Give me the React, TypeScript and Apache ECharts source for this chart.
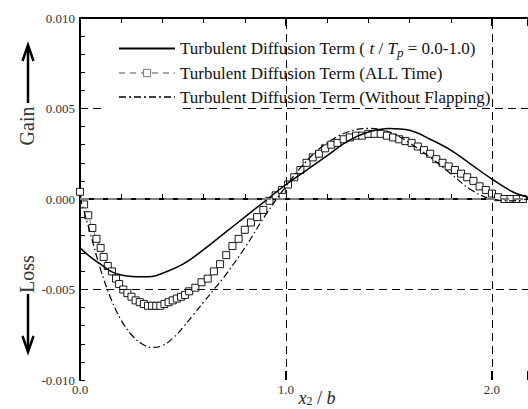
import React, { useEffect, useRef } from "react";
import * as echarts from "echarts";

const FONT = "Liberation Serif";

const S1 = "Turbulent Diffusion Term ( t / Tp = 0.0-1.0)";
const S2 = "Turbulent Diffusion Term (ALL Time)";
const S3 = "Turbulent Diffusion Term (Without Flapping)";

const X_SOLID = [0.0, 0.05, 0.1, 0.15, 0.2, 0.25, 0.3, 0.35, 0.4, 0.5, 0.6, 0.7, 0.8, 0.9, 1.0, 1.1, 1.2, 1.3, 1.4, 1.5, 1.6, 1.7, 1.8, 1.9, 2.0, 2.1, 2.175];
const Y_SOLID = [-0.0027, -0.0032, -0.0036, -0.004, -0.0042, -0.00428, -0.0043, -0.00428, -0.0041, -0.0036, -0.0028, -0.0019, -0.001, -0.0001, 0.0008, 0.0016, 0.0024, 0.0032, 0.0037, 0.0039, 0.0038, 0.0033, 0.0027, 0.0019, 0.0011, 0.0004, 0.0001];

const X_ALL = [0.0, 0.02, 0.04, 0.06, 0.08, 0.1, 0.115, 0.135, 0.155, 0.175, 0.19, 0.21, 0.23, 0.25, 0.27, 0.29, 0.31, 0.33, 0.35, 0.37, 0.39, 0.41, 0.43, 0.45, 0.47, 0.49, 0.51, 0.53, 0.56, 0.59, 0.62, 0.65, 0.68, 0.71, 0.74, 0.77, 0.8, 0.83, 0.86, 0.89, 0.92, 0.95, 0.98, 1.01, 1.04, 1.07, 1.1, 1.13, 1.16, 1.19, 1.22, 1.25, 1.28, 1.31, 1.34, 1.37, 1.4, 1.43, 1.46, 1.49, 1.52, 1.55, 1.58, 1.61, 1.64, 1.67, 1.7, 1.73, 1.76, 1.79, 1.82, 1.85, 1.88, 1.91, 1.94, 1.97, 2.0, 2.03, 2.06, 2.09, 2.12, 2.15];
const Y_ALL = [0.0004, -0.0003, -0.0009, -0.0016, -0.0022, -0.0027, -0.0032, -0.0037, -0.004, -0.0044, -0.0047, -0.005, -0.0052, -0.0054, -0.0056, -0.0057, -0.0058, -0.0059, -0.0059, -0.0059, -0.0059, -0.0058, -0.0057, -0.0056, -0.0055, -0.0054, -0.0053, -0.0051, -0.0049, -0.0046, -0.0044, -0.004, -0.0036, -0.0031, -0.0026, -0.0022, -0.0017, -0.0013, -0.001, -0.0006, -0.0001, 0.0002, 0.0005, 0.0008, 0.0012, 0.0016, 0.002, 0.0023, 0.0025, 0.0028, 0.003, 0.0031, 0.0033, 0.0034, 0.0035, 0.0035, 0.0036, 0.0036, 0.0036, 0.0035, 0.0034, 0.0033, 0.0032, 0.0031, 0.0029, 0.0027, 0.0025, 0.0022, 0.002, 0.0018, 0.0016, 0.0014, 0.0012, 0.001, 0.0007, 0.0005, 0.0003, 0.0001, 0.0, 0.0, 0.0, 0.0];

const X_NOFLAP = [0.0, 0.05, 0.1, 0.15, 0.2, 0.25, 0.3, 0.35, 0.4, 0.45, 0.5, 0.55, 0.6, 0.65, 0.7, 0.8, 0.9, 1.0, 1.1, 1.2, 1.3, 1.4, 1.5, 1.6, 1.7, 1.8, 1.9, 2.0, 2.1, 2.175];
const Y_NOFLAP = [0.0001, -0.0019, -0.0039, -0.0055, -0.0067, -0.0075, -0.008, -0.0082, -0.0081, -0.0077, -0.0071, -0.0064, -0.0057, -0.005, -0.0043, -0.0027, -0.0009, 0.0007, 0.0021, 0.0031, 0.0037, 0.0039, 0.0037, 0.0031, 0.0023, 0.0014, 0.0005, 0.0, -0.0001, 0.0];

const X_MAX = 2.175;
const Y_MIN = -0.01;
const Y_MAX = 0.01;

const pairs = (xs: number[], ys: number[]) => xs.map((x, i) => [x, ys[i]]);

export default function App() {
  const ref = useRef<HTMLDivElement>(null);
  useEffect(() => {
    if (!ref.current) return;
    const chart = echarts.init(ref.current, undefined, { renderer: "svg" });
    const isInt = (v: number) => Math.abs(v - Math.round(v)) < 1e-6;
    const blackDash = { color: "#000", width: 1, type: [8, 5] as any };
    const hiddenSymbol = { color: "transparent", borderColor: "transparent", borderWidth: 0 };
    const option: any = {
      animation: false,
      backgroundColor: "#fff",
      textStyle: { fontFamily: FONT },
      grid: { left: 80, top: 18, right: 0, bottom: 29 },
      xAxis: [
        {
          type: "value", min: 0, max: X_MAX, interval: 0.2, position: "bottom",
          axisLine: { show: true, lineStyle: { color: "#000", width: 2 } },
          axisTick: { show: true, inside: true, length: 5, lineStyle: { color: "#000", width: 1 } },
          axisLabel: {
            show: true, margin: 3, fontFamily: FONT, fontSize: 13, color: "#333",
            formatter: (v: number) => (isInt(v) ? v.toFixed(1) : ""),
            showMaxLabel: false,
          },
          splitLine: { show: false },
        },
        {
          type: "value", min: 0, max: X_MAX, interval: 1, position: "bottom",
          axisLine: { show: false },
          axisTick: { show: true, inside: true, length: 9, lineStyle: { color: "#000", width: 2 } },
          axisLabel: { show: false },
          splitLine: { show: false },
        },
        {
          type: "value", min: 0, max: X_MAX, interval: 0.2, position: "top",
          axisLine: { show: true, lineStyle: { color: "#000", width: 2 } },
          axisTick: { show: true, inside: true, length: 5, lineStyle: { color: "#000", width: 1 } },
          axisLabel: { show: false },
          splitLine: { show: false },
        },
        {
          type: "value", min: 0, max: X_MAX, interval: 1, position: "top",
          axisLine: { show: false },
          axisTick: { show: true, inside: true, length: 8, lineStyle: { color: "#000", width: 2 } },
          axisLabel: { show: false },
          splitLine: { show: false },
        },
      ],
      yAxis: {
        type: "value", min: Y_MIN, max: Y_MAX, interval: 0.005,
        axisLine: { show: true, onZero: false, lineStyle: { color: "#000", width: 2 } },
        axisTick: { show: true, inside: true, length: 5, lineStyle: { color: "#000", width: 1 } },
        minorTick: { show: true, splitNumber: 5, length: 5, lineStyle: { color: "#000", width: 1 } },
        axisLabel: {
          margin: 5, fontFamily: FONT, fontSize: 13, color: "#333",
          formatter: (v: number) => v.toFixed(3),
        },
        splitLine: { show: false },
      },
      legend: {
        orient: "vertical", left: 113, top: 33, itemWidth: 56, itemHeight: 9, itemGap: 4,
        textStyle: {
          fontFamily: FONT, fontSize: 17, color: "#111", lineHeight: 20,
          rich: {
            n: { fontFamily: FONT, fontSize: 17, lineHeight: 20, color: "#111" },
            i: { fontFamily: FONT, fontSize: 17, lineHeight: 20, fontStyle: "italic", color: "#111" },
            sub: { fontFamily: FONT, fontSize: 13, lineHeight: 12, fontStyle: "italic", color: "#111", padding: [8, 0, 0, 0] },
          },
        },
        formatter: (name: string) =>
          name === S1 ? "{n|Turbulent Diffusion Term ( }{i|t}{n| / }{i|T}{sub|p}{n| = 0.0-1.0)}" : name,
        data: [
          { name: S1, itemStyle: hiddenSymbol, lineStyle: { color: "#000", width: 2, type: "solid" } },
          { name: S2, itemStyle: { borderColor: "#777", color: "#fff", borderWidth: 1 }, lineStyle: { color: "#888", width: 1.5, type: [6, 5] } },
          { name: S3, itemStyle: hiddenSymbol, lineStyle: { color: "#000", width: 1.6, type: [7, 3, 2, 3] } },
        ],
      },
      series: [
        {
          name: "grid", type: "line", data: [], z: 1, silent: true,
          markLine: {
            silent: true, symbol: "none", label: { show: false }, animation: false,
            data: [
              [{ coord: [1, Y_MIN], lineStyle: blackDash }, { coord: [1, Y_MAX] }],
              [{ coord: [2, Y_MIN], lineStyle: blackDash }, { coord: [2, Y_MAX] }],
              [{ coord: [0, 0.005], lineStyle: blackDash }, { coord: [0.12, 0.005] }],
              [{ coord: [0.5, 0.005], lineStyle: blackDash }, { coord: [X_MAX, 0.005] }],
              [{ coord: [0, -0.005], lineStyle: blackDash }, { coord: [X_MAX, -0.005] }],
              [{ coord: [0, 0], lineStyle: { color: "#808080", width: 2, type: [9, 5] } }, { coord: [X_MAX, 0] }],
            ],
          },
        },
        {
          name: S2, type: "line", z: 3, data: pairs(X_ALL, Y_ALL),
          symbol: "rect", symbolSize: 7, showSymbol: true,
          itemStyle: { color: "#fff", borderColor: "#000", borderWidth: 0.9 },
          lineStyle: { color: "#777", width: 1, type: [6, 4] },
        },
        {
          name: S1, type: "line", z: 4, data: pairs(X_SOLID, Y_SOLID), smooth: 0.4,
          showSymbol: false, symbol: "circle",
          itemStyle: { color: "#000" },
          lineStyle: { color: "#000", width: 1.5, type: "solid" },
        },
        {
          name: S3, type: "line", z: 4, data: pairs(X_NOFLAP, Y_NOFLAP), smooth: 0.4,
          showSymbol: false, symbol: "circle",
          itemStyle: { color: "#000" },
          lineStyle: { color: "#000", width: 1.2, type: [7, 3, 1.5, 3] },
        },
      ],
      graphic: [
        {
          type: "text", x: 27, y: 126, rotation: Math.PI / 2, z: 10,
          style: { text: "Gain", fontFamily: FONT, fontSize: 20, fill: "#333", align: "center", verticalAlign: "middle", textAlign: "center", textVerticalAlign: "middle" },
        },
        {
          type: "text", x: 27, y: 274, rotation: Math.PI / 2, z: 10,
          style: { text: "Loss", fontFamily: FONT, fontSize: 20, fill: "#333", align: "center", verticalAlign: "middle", textAlign: "center", textVerticalAlign: "middle" },
        },
        { type: "line", z: 10, shape: { x1: 28, y1: 103, x2: 28, y2: 47 }, style: { stroke: "#000", lineWidth: 2.5 } },
        { type: "polyline", z: 10, shape: { points: [[22.5, 61], [28, 45], [33.5, 61]] }, style: { stroke: "#000", lineWidth: 2.5, fill: "none" } },
        { type: "line", z: 10, shape: { x1: 28, y1: 294, x2: 28, y2: 350 }, style: { stroke: "#000", lineWidth: 2.5 } },
        { type: "polyline", z: 10, shape: { points: [[22.5, 336], [28, 352], [33.5, 336]] }, style: { stroke: "#000", lineWidth: 2.5, fill: "none" } },
        {
          type: "text", x: 317, y: 398, z: 10,
          style: {
            text: "{i|x}{s|2}{n| / }{i|b}", align: "center", verticalAlign: "middle", textAlign: "center", textVerticalAlign: "middle",
            rich: {
              i: { fontFamily: FONT, fontSize: 18, fontStyle: "italic", fill: "#222", color: "#222", lineHeight: 18 },
              n: { fontFamily: FONT, fontSize: 18, fill: "#222", color: "#222", lineHeight: 18 },
              s: { fontFamily: FONT, fontSize: 12, fill: "#222", color: "#222", lineHeight: 12, padding: [6, 0, 0, 0] },
            },
          },
        },
      ],
    };
    chart.setOption(option);
    return () => chart.dispose();
  }, []);
  return <div ref={ref} style={{ position: "fixed", left: 0, top: 0, width: 528, height: 409 }} />;
}
